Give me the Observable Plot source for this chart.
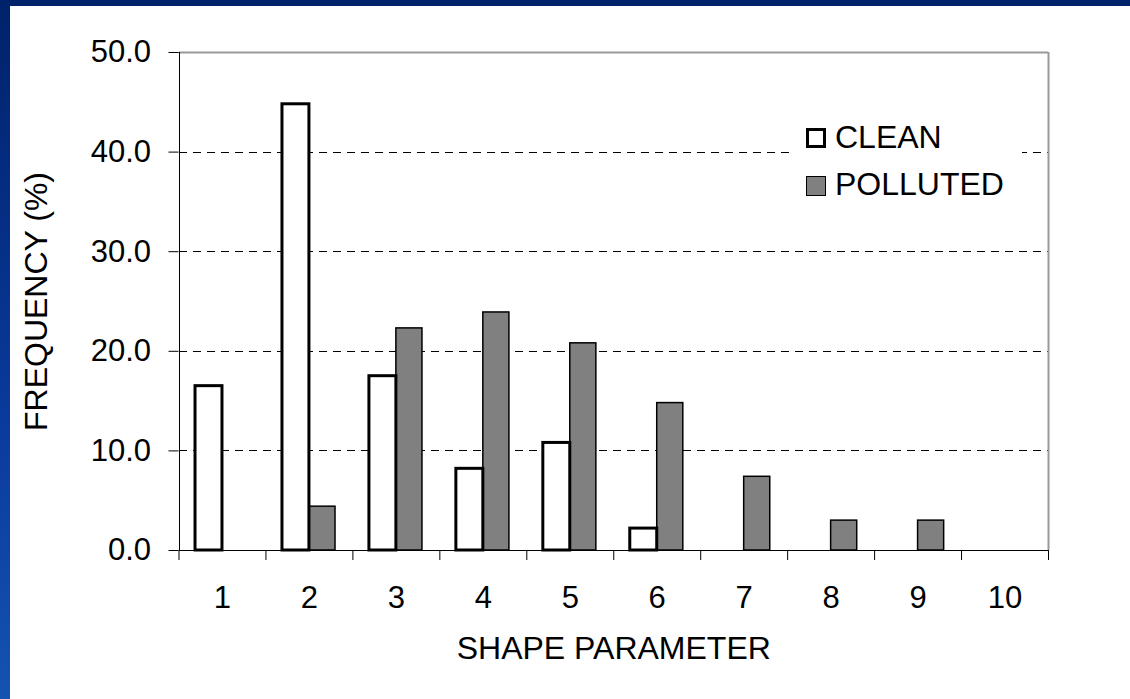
<!DOCTYPE html>
<html><head><meta charset="utf-8">
<script src="https://cdn.jsdelivr.net/npm/d3@7"></script>
<script src="https://cdn.jsdelivr.net/npm/@observablehq/plot@0.6"></script>
<style>
html,body{margin:0;padding:0;background:#fff;width:1130px;height:699px;overflow:hidden;font-family:"Liberation Sans",Arial,sans-serif;}
#topbar{position:absolute;left:0;top:0;width:1130px;height:6px;background:#00226a;z-index:2;}
#leftbar{position:absolute;left:0;top:0;width:10px;height:699px;background:linear-gradient(#00226a,#0a3a9c 60%,#1553b0);z-index:2;}
#chart{position:absolute;left:0;top:0;}
#legend{position:absolute;left:795px;top:115px;width:227px;height:90px;background:#fff;}
.sw{position:absolute;box-sizing:border-box;width:20px;height:20px;}
.lt{position:absolute;font-size:32px;line-height:32px;color:#000;white-space:nowrap;}
</style>
</head><body>
<div id="topbar"></div><div id="leftbar"></div>
<div id="chart"></div>
<div id="legend"></div>
<script>
const categories = [1,2,3,4,5,6,7,8,9,10];
const cleanValues = [16.5,44.8,17.5,8.2,10.8,2.2,0,0,0,0];
const pollutedValues = [0,4.4,22.3,23.9,20.8,14.8,7.4,3.0,3.0,0];
const yTicks = [0,10,20,30,40,50];
const seriesNames = ["CLEAN","POLLUTED"];
const xTitle = "SHAPE PARAMETER";
const yTitle = "FREQUENCY (%)";

const xDomain = [categories[0]-0.5, categories[categories.length-1]+0.5];
const yDomain = [yTicks[0], yTicks[yTicks.length-1]];
const boundaries = categories.map(c=>c-0.5).concat([categories[categories.length-1]+0.5]);
const cleanData = categories.map((c,i)=>({cat:c, v:cleanValues[i]})).filter(d=>d.v>0);
const pollutedData = categories.map((c,i)=>({cat:c, v:pollutedValues[i]})).filter(d=>d.v>0);

const chart = Plot.plot({
  width:1130, height:699,
  marginLeft:178.5, marginRight:82, marginTop:52, marginBottom:149,
  style:{fontFamily:"'Liberation Sans', Arial, sans-serif", color:"#000", background:"transparent"},
  x:{domain:xDomain, label:null},
  y:{domain:yDomain, label:null},
  marks:[
    Plot.gridY(yTicks.slice(1,-1), {stroke:"#000", strokeOpacity:1, strokeDasharray:"8,6", strokeWidth:1, shapeRendering:"crispEdges"}),
    Plot.ruleY([yDomain[1]], {stroke:"#999", strokeWidth:2}),
    Plot.ruleX([xDomain[1]], {stroke:"#999", strokeWidth:2}),
    Plot.ruleX([xDomain[0]], {stroke:"#000", strokeWidth:1, shapeRendering:"crispEdges"}),
    Plot.ruleY([yDomain[0]], {stroke:"#000", strokeWidth:1, shapeRendering:"crispEdges"}),
    Plot.rectY(pollutedData, {x1:d=>d.cat, x2:d=>d.cat+0.3, y:"v", fill:"#808080", stroke:"#000", strokeWidth:1.5}),
    Plot.rectY(cleanData, {x1:d=>d.cat-0.31, x2:d=>d.cat, y:"v", fill:"#fff", stroke:"#000", strokeWidth:3}),
    Plot.axisY(yTicks, {tickFormat:d3.format(".1f"), tickSize:10, tickPadding:18, fontSize:31, label:null}),
    Plot.axisX(boundaries, {tickFormat:()=>"", tickSize:10, label:null}),
    Plot.axisX(categories, {tickSize:0, tickPadding:35, fontSize:31, label:null}),
    Plot.text([xTitle], {text:d=>d, frameAnchor:"bottom", dy:108, fontSize:32}),
    Plot.text([yTitle], {text:d=>d, frameAnchor:"left", textAnchor:"middle", dx:-142, rotate:-90, fontSize:32})
  ]
});
document.getElementById("chart").appendChild(chart);

const legend = document.getElementById("legend");
const styles = [
  {fill:"#fff", border:"3px solid #000"},
  {fill:"#808080", border:"1.5px solid #000"}
];
seriesNames.forEach((name,i)=>{
  const sw = document.createElement("div");
  sw.className = "sw";
  sw.style.left = "11px";
  sw.style.top = (13 + i*48) + "px";
  sw.style.background = styles[i].fill;
  sw.style.border = styles[i].border;
  legend.appendChild(sw);
  const t = document.createElement("div");
  t.className = "lt";
  t.style.left = "40px";
  t.style.top = (6 + i*47) + "px";
  t.textContent = name;
  legend.appendChild(t);
});
</script>
</body></html>
